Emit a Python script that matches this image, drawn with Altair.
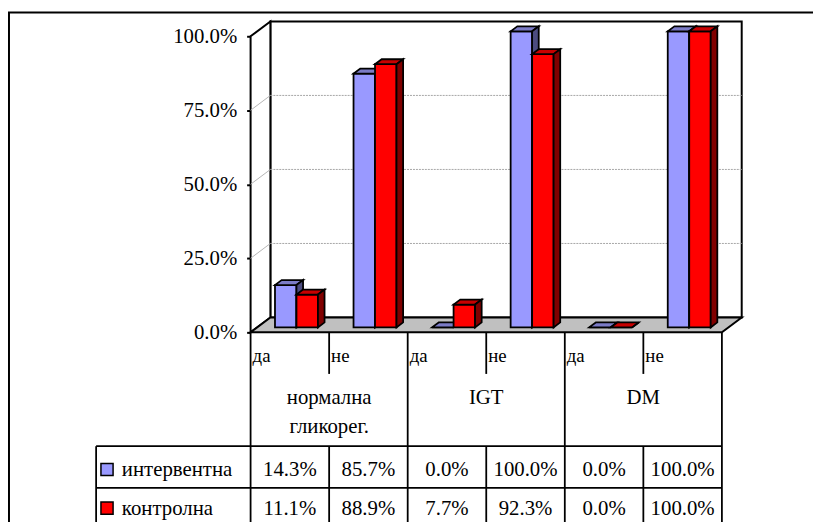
import altair as alt
import pandas as pd

# ---------------- data ----------------
groups = ["нормална гликорег.", "IGT", "DM"]
answers = ["да", "не", "да", "не", "да", "не"]
series = ["интервентна", "контролна"]
intervention = [14.3, 85.7, 0.0, 100.0, 0.0, 100.0]
control = [11.1, 88.9, 7.7, 92.3, 0.0, 100.0]
y_ticks = [0.0, 0.25, 0.5, 0.75, 1.0]

# ---------------- styling / geometry ----------------
FONT = "Liberation Serif"
FS = 21
W, H = 476, 299                 # front plot plane (pixels)
NCAT = len(answers)
PX_X = W / NCAT
DX = 20 / PX_X                  # floor depth, x units
DY = 15 / H                     # floor depth, y units
BAR_W = 21.7 / PX_X
front_col = ["#9999FF", "#FF0000"]
top_col = ["#7B7BC6", "#C80000"]
side_col = ["#4C4C80", "#800000"]

xs = alt.Scale(domain=[0, NCAT], nice=False, zero=False)
ys = alt.Scale(domain=[0, 1], nice=False, zero=False)
y_axis = alt.Axis(values=y_ticks, format=".1%", grid=False, domainColor="black",
                  domainWidth=2, tickColor="black", tickWidth=2, tickSize=4,
                  labelPadding=10, labelFont=FONT, labelFontSize=FS,
                  labelColor="black", title=None)
X = lambda f: alt.X(f, type="quantitative", scale=xs, axis=None)
Y = lambda f: alt.Y(f, type="quantitative", scale=ys, axis=y_axis, stack=None)

layers = []

# back wall
back = pd.DataFrame([dict(x=DX, x2=NCAT + DX, y=DY, y2=1 + DY)])
layers.append(alt.Chart(back).mark_rect(fill="white", stroke="black", strokeWidth=2).encode(
    x=X("x"), x2="x2", y=Y("y"), y2="y2"))

# left wall
left = pd.DataFrame([dict(x=0, y=1, y2=0), dict(x=DX, y=1 + DY, y2=DY)])
layers.append(alt.Chart(left).mark_area(orient="vertical", fill="white", stroke="black",
                                        strokeWidth=2).encode(
    x=X("x"), y=Y("y"), y2="y2"))

# gridlines on back wall and left wall
gv = pd.DataFrame({"v": y_ticks[1:-1]})
layers.append(alt.Chart(gv).transform_calculate(
    y=f"datum.v + {DY}", xa=f"{DX}", xb=f"{NCAT + DX}").mark_rule(
    color="#A6A6A6", strokeWidth=1, strokeDash=[2, 1]).encode(
    x=X("xa:Q"), x2="xb:Q", y=Y("y:Q")))
layers.append(alt.Chart(gv).transform_calculate(
    y2=f"datum.v + {DY}", xa="0", xb=f"{DX}").mark_rule(
    color="#B4B4B4", strokeWidth=1).encode(
    x=X("xa:Q"), x2="xb:Q", y=Y("v:Q"), y2="y2:Q"))

# floor
floor = pd.DataFrame([dict(y=0, x=0, x2=NCAT), dict(y=DY, x=DX, x2=NCAT + DX)])
layers.append(alt.Chart(floor).mark_area(orient="horizontal", fill="#C0C0C0", stroke="black",
                                         strokeWidth=2).encode(
    y=Y("y"), x=X("x"), x2="x2"))

# bars (3-D columns)
d1x, d1y, d2x, d2y = DX / 3, DY / 3, 2 * DX / 3, 2 * DY / 3
for k, vals in enumerate([intervention, control]):
    fr, tp, sd = [], [], []
    for i, v in enumerate(vals):
        c = i + 0.5
        x0 = c - BAR_W if k == 0 else c
        x1 = x0 + BAR_W
        h = v / 100
        fr.append(dict(id=i, x=x0 + d1x, x2=x1 + d1x, y=d1y, y2=h + d1y))
        tp += [dict(id=i, y=h + d1y, x=x0 + d1x, x2=x1 + d1x),
               dict(id=i, y=h + d2y, x=x0 + d2x, x2=x1 + d2x)]
        sd += [dict(id=i, x=x1 + d1x, y=h + d1y, y2=d1y),
               dict(id=i, x=x1 + d2x, y=h + d2y, y2=d2y)]
    layers.append(alt.Chart(pd.DataFrame(fr)).mark_rect(
        fill=front_col[k], stroke="black", strokeWidth=1.8).encode(
        x=X("x"), x2="x2", y=Y("y"), y2="y2"))
    layers.append(alt.Chart(pd.DataFrame(tp)).mark_area(
        orient="horizontal", fill=top_col[k], stroke="black", strokeWidth=1.8).encode(
        y=Y("y"), x=X("x"), x2="x2", detail="id:N"))
    layers.append(alt.Chart(pd.DataFrame(sd)).mark_area(
        orient="vertical", fill=side_col[k], stroke="black", strokeWidth=1.8).encode(
        x=X("x"), y=Y("y"), y2="y2", detail="id:N"))

# ---------------- data table ----------------
LINE = dict(color="black", strokeWidth=1.8)
ROW_TOP, ROW_MID, BOTTOM = 414, 456, 520
LEG_X = -156
row_y = [438.5, 477.5]

sub = pd.DataFrame({"x": [1, 3, 5]})
grp = pd.DataFrame({"x": [0, 2, 4, 6]})
layers.append(alt.Chart(sub).mark_rule(**LINE).encode(
    x=X("x"), y=alt.value(H), y2=alt.value(341)))
layers.append(alt.Chart(sub).mark_rule(**LINE).encode(
    x=X("x"), y=alt.value(ROW_TOP), y2=alt.value(BOTTOM)))
layers.append(alt.Chart(grp).mark_rule(**LINE).encode(
    x=X("x"), y=alt.value(H), y2=alt.value(BOTTOM)))
for yy in [ROW_TOP, ROW_MID]:
    layers.append(alt.Chart(pd.DataFrame({"x": [NCAT]})).mark_rule(**LINE).encode(
        x=X("x"), x2=alt.value(LEG_X), y=alt.value(yy)))
layers.append(alt.Chart(pd.DataFrame({"a": [0]})).mark_rule(**LINE).encode(
    x=alt.value(LEG_X), y=alt.value(ROW_TOP), y2=alt.value(BOTTOM)))

# answer labels (да / не)
ans = pd.DataFrame({"x": list(range(NCAT)), "t": answers})
layers.append(alt.Chart(ans).mark_text(font=FONT, fontSize=19, align="left", baseline="middle",
                                       dx=2, color="black").encode(
    x=X("x"), y=alt.value(323), text="t:N"))

# group labels
gl = pd.DataFrame({"x": [1, 3, 5], "t": groups})
layers.append(alt.Chart(gl).mark_text(font=FONT, fontSize=FS, align="center", baseline="top",
                                      lineBreak=" ", lineHeight=30, color="black").encode(
    x=X("x"), y=alt.value(354), text="t:N"))

# values
for k, vals in enumerate([intervention, control]):
    dv = pd.DataFrame({"x": [i + 0.5 for i in range(NCAT)], "v": vals})
    layers.append(alt.Chart(dv).transform_calculate(
        t="format(datum.v / 100, '.1%')").mark_text(
        font=FONT, fontSize=FS, align="center", baseline="middle", color="black").encode(
        x=X("x"), y=alt.value(row_y[k]), text="t:N"))
    lg = pd.DataFrame({"s": [series[k]]})
    layers.append(alt.Chart(lg).mark_point(shape="square", filled=True, size=150,
                                           fill=front_col[k], stroke="black", strokeWidth=1.5,
                                           opacity=1).encode(
        x=alt.value(LEG_X + 11), y=alt.value(row_y[k] - 1)))
    layers.append(alt.Chart(lg).mark_text(font=FONT, fontSize=FS, align="left",
                                          baseline="middle", color="black").encode(
        x=alt.value(LEG_X + 26), y=alt.value(row_y[k]), text="s:N"))

# outer frame
layers.append(alt.Chart(pd.DataFrame({"a": [0]})).mark_rule(color="black", strokeWidth=2).encode(
    x=alt.value(-245), x2=alt.value(600), y=alt.value(-24)))
layers.append(alt.Chart(pd.DataFrame({"a": [0]})).mark_rule(color="black", strokeWidth=2).encode(
    x=alt.value(-244), y=alt.value(-24), y2=alt.value(BOTTOM)))

chart = alt.layer(*layers).properties(
    width=W, height=H,
    autosize=alt.AutoSizeParams(type="none"),
    padding={"left": 245, "top": 26, "right": 92, "bottom": 189},
    background="white",
).configure_view(stroke=None)

chart.save("out.html", embed_options={"renderer": "svg", "actions": False})
